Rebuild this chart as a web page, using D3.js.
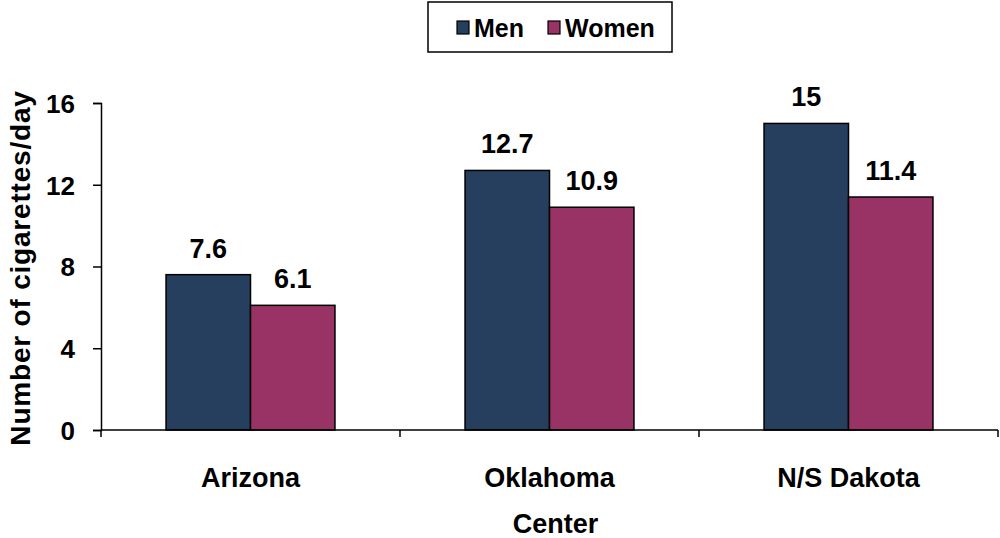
<!DOCTYPE html>
<html><head><meta charset="utf-8">
<script src="https://cdn.jsdelivr.net/npm/d3@7"></script>
<style>body{margin:0;background:#fff}svg{display:block}text{font-family:"Liberation Sans",Arial,sans-serif;font-weight:bold}</style>
</head><body>
<script>
const categories = ["Arizona", "Oklahoma", "N/S Dakota"];
const seriesNames = ["Men", "Women"];
const men = [7.6, 12.7, 15];
const women = [6.1, 10.9, 11.4];
const yTicks = [0, 4, 8, 12, 16];
const colors = ["#263f5f", "#993366"];

const W = 1000, H = 538;
const svg = d3.select("body").append("svg").attr("width", W).attr("height", H);
const x0 = 101, x1 = 998, yBase = 430, yTop = 103;
const x = d3.scaleBand().domain(categories).range([x0, x1]).paddingInner(0).paddingOuter(0);
const xs = d3.scaleBand().domain(seriesNames).range([0, x.bandwidth()]).paddingOuter(0.77).paddingInner(0);
const y = d3.scaleLinear().domain([0, 16]).range([yBase, yTop]);

const data = categories.map((c, i) => ({c, vals: [men[i], women[i]]}));
const g = svg.append("g");
data.forEach(d => {
  d.vals.forEach((v, j) => {
    const bx = x(d.c) + xs(seriesNames[j]);
    g.append("rect").attr("x", bx).attr("y", y(v)).attr("width", xs.bandwidth()).attr("height", y(0) - y(v))
      .attr("fill", colors[j]).attr("stroke", "#000").attr("stroke-width", 1.5);
    g.append("text").attr("x", bx + xs.bandwidth() / 2).attr("y", y(v) - 17).attr("text-anchor", "middle")
      .attr("font-size", 27).text(v);
  });
});

// Y axis
const yAxis = d3.axisLeft(y).tickValues(yTicks).tickSize(8).tickPadding(18);
const ya = svg.append("g").attr("transform", `translate(${x0},0)`).call(yAxis);
ya.selectAll("text").attr("font-size", 26).attr("fill", "#000").attr("dy", "0.36em").style("font-family", "Liberation Sans").style("font-weight", "bold");
ya.selectAll("line,path").attr("stroke", "#000").attr("stroke-width", 1.5);

// X axis
const xa = svg.append("g").attr("transform", `translate(0,${yBase})`);
xa.append("line").attr("x1", x0).attr("x2", x1).attr("stroke", "#000").attr("stroke-width", 1.5);
const tickPos = categories.map(c => x(c)).concat([x1]);
xa.selectAll(".tk").data(tickPos).join("line").attr("x1", d => d).attr("x2", d => d).attr("y1", 0).attr("y2", 7)
  .attr("stroke", "#000").attr("stroke-width", 1.5);
xa.selectAll(".lb").data(categories).join("text").attr("x", d => x(d) + x.bandwidth() / 2).attr("y", 57)
  .attr("text-anchor", "middle").attr("font-size", 27).text(d => d);

// Titles
svg.append("text").attr("x", (x0 + x1) / 2 + 6).attr("y", 533).attr("text-anchor", "middle").attr("font-size", 27).text("Center");
svg.append("text").attr("transform", `translate(30,268) rotate(-90)`).attr("text-anchor", "middle").attr("font-size", 28).attr("letter-spacing", 0.8).text("Number of cigarettes/day");

// Legend
const lg = svg.append("g");
lg.append("rect").attr("x", 428).attr("y", 2).attr("width", 244).attr("height", 50).attr("fill", "#fff").attr("stroke", "#000").attr("stroke-width", 1.5);
const lx = [457, 548];
seriesNames.forEach((s, j) => {
  lg.append("rect").attr("x", lx[j]).attr("y", 21).attr("width", 12).attr("height", 13).attr("fill", colors[j]).attr("stroke", "#000").attr("stroke-width", 1.2);
  lg.append("text").attr("x", lx[j] + 17).attr("y", 37).attr("font-size", 25).text(s);
});
</script>
</body></html>
